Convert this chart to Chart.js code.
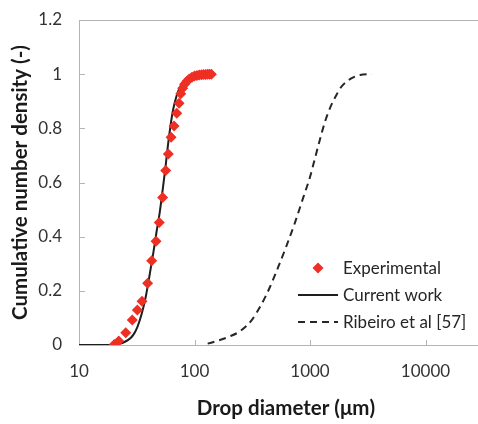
<!DOCTYPE html>
<html>
<head>
<meta charset="utf-8">
<script src="https://cdn.jsdelivr.net/npm/chart.js@4"></script>
<style>
  html, body { margin: 0; padding: 0; background: #fff; }
</style>
</head>
<body>
<canvas id="chart" width="478" height="424"></canvas>
<script>
// Experimental data
const expX = [20.2, 22.1, 25.4, 28.9, 32.0, 35.1, 39.3, 42.6, 46.4, 49.5, 53.0, 56.3, 59.3, 62.7, 66.5, 70.2, 73.5,
  76, 79, 82, 86, 90, 95, 100, 105, 110, 115, 120, 125, 130, 135, 140];
const expY = [0.002, 0.015, 0.045, 0.092, 0.129, 0.162, 0.228, 0.311, 0.383, 0.452, 0.545, 0.644, 0.705, 0.767, 0.809, 0.856, 0.893,
  0.928, 0.948, 0.963, 0.974, 0.982, 0.989, 0.993, 0.995, 0.997, 0.998, 0.999, 0.999, 1.0, 1.0, 1.0];

// Current work (model)
const cwX = [10, 15, 18, 20, 22, 25, 28, 30, 32, 35, 38, 41, 44, 47, 50, 53, 56, 59, 62, 65, 70, 75, 80, 90, 100, 110, 120];
const cwY = [0, 0, 0, 0.001, 0.004, 0.012, 0.026, 0.042, 0.066, 0.117, 0.182, 0.262, 0.340, 0.42, 0.49, 0.572, 0.655, 0.74,
  0.81, 0.865, 0.92, 0.953, 0.972, 0.99, 0.997, 0.999, 1.0];

// Ribeiro et al [57]
const rbX = [130, 160, 200, 250, 313, 382, 451, 532, 628, 741, 875, 1000, 1105, 1221, 1350, 1490, 1702, 1880, 2296, 2711, 3420];
const rbY = [0.005, 0.016, 0.031, 0.052, 0.092, 0.152, 0.215, 0.289, 0.368, 0.452, 0.545, 0.62, 0.69, 0.76, 0.825, 0.875,
  0.925, 0.955, 0.985, 0.997, 1.0];

const xTicks = [10, 100, 1000, 10000];
const yTicks = [0, 0.2, 0.4, 0.6, 0.8, 1, 1.2];

const toPts = (xs, ys) => xs.map((x, i) => ({ x: x, y: ys[i] }));

const FONT = "Lato, 'Open Sans', sans-serif";
const AXIS_GRAY = "#b4b4b4";

// inward tick marks + top border
const frame = {
  id: "frame",
  beforeDatasetsDraw(chart) {
    const { ctx, chartArea: a, scales } = chart;
    ctx.save();
    ctx.strokeStyle = AXIS_GRAY;
    ctx.lineWidth = 1;
    ctx.beginPath();
    scales.x.ticks.forEach(t => {
      const px = Math.round(scales.x.getPixelForValue(t.value)) + 0.5;
      ctx.moveTo(px, a.bottom);
      ctx.lineTo(px, a.bottom - 5);
    });
    scales.y.ticks.forEach(t => {
      const py = Math.round(scales.y.getPixelForValue(t.value)) + 0.5;
      ctx.moveTo(a.left, py);
      ctx.lineTo(a.left + 6, py);
    });
    ctx.moveTo(a.left, a.top + 0.5);
    ctx.lineTo(a.right, a.top + 0.5);
    ctx.stroke();
    ctx.restore();
  }
};

// legend inside the plot
const innerLegend = {
  id: "innerLegend",
  afterDraw(chart) {
    const { ctx } = chart;
    const ds = chart.data.datasets;
    const x0 = 298, x1 = 338, tx = 343;
    const rows = [268, 295, 322];
    ctx.save();
    ctx.font = "17px " + FONT;
    ctx.textBaseline = "middle";
    ds.forEach((d, i) => {
      const y = rows[i];
      if (d.showLine === false) {
        ctx.fillStyle = d.backgroundColor;
        ctx.beginPath();
        ctx.moveTo(318 - 5.5, y); ctx.lineTo(318, y - 5.5);
        ctx.lineTo(318 + 5.5, y); ctx.lineTo(318, y + 5.5);
        ctx.closePath();
        ctx.fill();
      } else {
        ctx.strokeStyle = d.borderColor;
        ctx.lineWidth = d.borderWidth;
        ctx.setLineDash(d.borderDash || []);
        ctx.beginPath();
        ctx.moveTo(x0, y); ctx.lineTo(x1, y);
        ctx.stroke();
        ctx.setLineDash([]);
      }
      ctx.fillStyle = "#262626";
      ctx.fillText(d.label, tx, y + 1);
    });
    ctx.restore();
  }
};

new Chart(document.getElementById("chart"), {
  type: "scatter",
  data: {
    datasets: [
      {
        label: "Experimental",
        data: toPts(expX, expY),
        showLine: false,
        pointStyle: "rectRot",
        pointRadius: 5.5,
        pointHoverRadius: 5.5,
        backgroundColor: "#ee2f24",
        borderColor: "#ee2f24",
        borderWidth: 0,
        order: 0
      },
      {
        label: "Current work",
        data: toPts(cwX, cwY),
        showLine: true,
        pointRadius: 0,
        borderColor: "#1e1e1e",
        borderWidth: 2,
        cubicInterpolationMode: "monotone",
        order: 1
      },
      {
        label: "Ribeiro et al [57]",
        data: toPts(rbX, rbY),
        showLine: true,
        pointRadius: 0,
        borderColor: "#262626",
        borderWidth: 2,
        borderDash: [7, 5],
        cubicInterpolationMode: "monotone",
        order: 2
      }
    ]
  },
  options: {
    responsive: false,
    animation: false,
    layout: { autoPadding: false, padding: { top: 20, right: 0, left: 0, bottom: 0 } },
    plugins: {
      legend: { display: false },
      tooltip: { enabled: false }
    },
    scales: {
      x: {
        type: "logarithmic",
        min: 10,
        max: 28480,
        afterBuildTicks: s => { s.ticks = xTicks.map(v => ({ value: v })); },
        afterFit: s => { s.height = 79; },
        ticks: {
          autoSkip: false,
          maxRotation: 0,
          padding: 16,
          color: "#333",
          font: { family: FONT, size: 17 },
          callback: v => String(v)
        },
        grid: { drawOnChartArea: false, drawTicks: false },
        border: { display: true, color: AXIS_GRAY, width: 1 },
        title: {
          display: true,
          text: "   Drop diameter (\u03bcm)",
          color: "#1a1a1a",
          font: { family: FONT, size: 20.5, weight: "bold" },
          padding: { top: 0, bottom: 3 }
        }
      },
      y: {
        min: 0,
        max: 1.2,
        afterBuildTicks: s => { s.ticks = yTicks.map(v => ({ value: v })); },
        afterFit: s => { s.width = 79; },
        ticks: {
          padding: 0,
          color: "#333",
          font: { family: FONT, size: 17 },
          callback: v => String(+v.toFixed(1))
        },
        grid: { drawOnChartArea: false, drawTicks: true, tickLength: 17, color: "rgba(0,0,0,0)" },
        border: { display: true, color: AXIS_GRAY, width: 1 },
        title: {
          display: true,
          text: "Cumulative number density (-)",
          color: "#1a1a1a",
          font: { family: FONT, size: 20.5, weight: "bold" },
          padding: { top: 8, bottom: 0 }
        }
      }
    }
  },
  plugins: [frame, innerLegend]
});
</script>
</body>
</html>
